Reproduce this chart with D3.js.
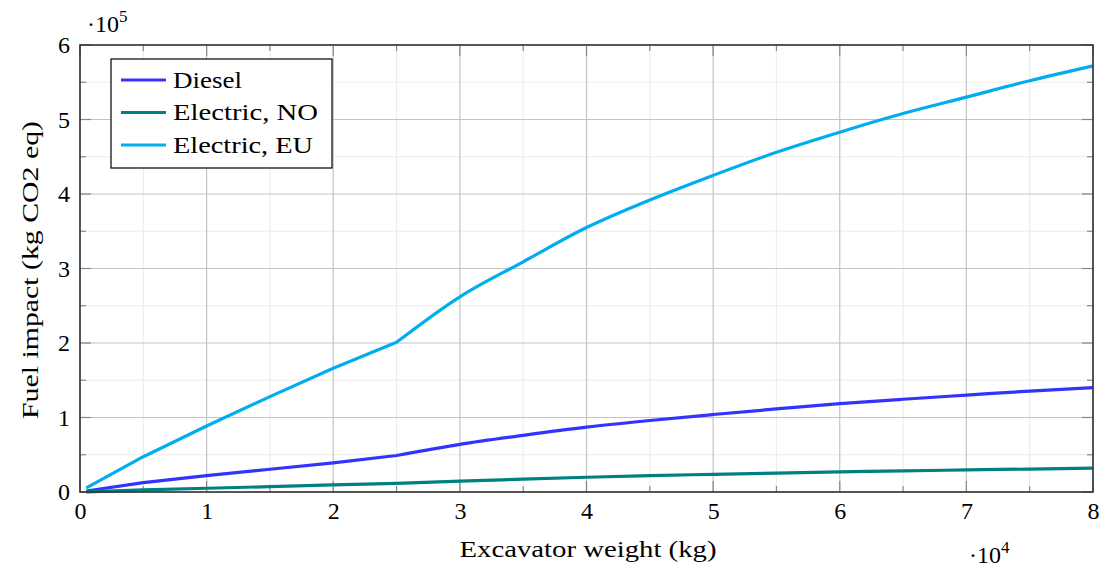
<!DOCTYPE html>
<html><head><meta charset="utf-8">
<script src="https://cdn.jsdelivr.net/npm/d3@7"></script>
<style>body{margin:0;background:#fff}</style>
</head><body><svg id="c" width="1108" height="572"></svg>
<script>
const weights = [500, 5000, 10000, 15000, 20000, 25000, 30000, 35000, 40000, 45000, 50000, 55000, 60000, 65000, 70000, 75000, 80000];
const electricEU = [5500, 47400, 88600, 128000, 166000, 201000, 262000, 309000, 355000, 392000, 425000, 456000, 483000, 508000, 530000, 552000, 572000];
const diesel = [1300, 12500, 22000, 30500, 39000, 49000, 64000, 76000, 87000, 96000, 104000, 111500, 118500, 124500, 130000, 135500, 140000];
const electricNO = [300, 2800, 5000, 7200, 9500, 11500, 14500, 17300, 19800, 22000, 23700, 25400, 27000, 28400, 29600, 30800, 32000];
const seriesNames = ["Diesel", "Electric, NO", "Electric, EU"];
const seriesColors = ["#3333ff", "#008080", "#00aeef"];
const xTicks = [0,10000,20000,30000,40000,50000,60000,70000,80000];
const yTicks = [0,100000,200000,300000,400000,500000,600000];
const kinkWeight = 25000;

const FONT = "'Liberation Serif', 'Times New Roman', serif";
const svg = d3.select("#c");
const L=80,R=1093,T=45,B=492;
const x = d3.scaleLinear().domain([0,80000]).range([L,R]);
const y = d3.scaleLinear().domain([0,600000]).range([B,T]);
const g = svg.append("g");
const xMinor = d3.range(5000,80000,10000);
const yMinor = d3.range(50000,600000,100000);
g.selectAll(".xm").data(xMinor).enter().append("line").attr("x1",d=>x(d)).attr("x2",d=>x(d)).attr("y1",T).attr("y2",B).attr("stroke","#ececec").attr("stroke-width",1.2);
g.selectAll(".ym").data(yMinor).enter().append("line").attr("y1",d=>y(d)).attr("y2",d=>y(d)).attr("x1",L).attr("x2",R).attr("stroke","#ececec").attr("stroke-width",1.2);
g.selectAll(".xg").data(xTicks).enter().append("line").attr("x1",d=>x(d)).attr("x2",d=>x(d)).attr("y1",T).attr("y2",B).attr("stroke","#c4c4c4").attr("stroke-width",1.2);
g.selectAll(".yg").data(yTicks).enter().append("line").attr("y1",d=>y(d)).attr("y2",d=>y(d)).attr("x1",L).attr("x2",R).attr("stroke","#c4c4c4").attr("stroke-width",1.2);
const tk = (data,len,col)=>{
  data.forEach(d=>{
    g.append("line").attr("x1",x(d)).attr("x2",x(d)).attr("y1",B).attr("y2",B-len).attr("stroke",col).attr("stroke-width",1.2);
    g.append("line").attr("x1",x(d)).attr("x2",x(d)).attr("y1",T).attr("y2",T+len).attr("stroke",col).attr("stroke-width",1.2);
  });
};
const tky = (data,len,col)=>{
  data.forEach(d=>{
    g.append("line").attr("y1",y(d)).attr("y2",y(d)).attr("x1",L).attr("x2",L+len).attr("stroke",col).attr("stroke-width",1.2);
    g.append("line").attr("y1",y(d)).attr("y2",y(d)).attr("x1",R).attr("x2",R-len).attr("stroke",col).attr("stroke-width",1.2);
  });
};
tk(xMinor,6,"#888"); tky(yMinor,6,"#888");
tk(xTicks,11,"#888"); tky(yTicks,11,"#888");

const allSeries = [diesel, electricNO, electricEU];
const lineA = d3.line().x(d=>x(d[0])).y(d=>y(d[1]));
const lineB = d3.line().x(d=>x(d[0])).y(d=>y(d[1])).curve(d3.curveMonotoneX);
[2,0,1].forEach(k=>{
  const pts = weights.map((w,i)=>[w, allSeries[k][i]]);
  const a = pts.filter(p=>p[0]<=kinkWeight), b = pts.filter(p=>p[0]>=kinkWeight);
  const d = lineA(a) + "L" + lineB(b).slice(1);
  g.append("path").attr("d",d).attr("fill","none").attr("stroke",seriesColors[k]).attr("stroke-width",3.2).attr("stroke-linejoin","round");
});
g.append("rect").attr("x",L).attr("y",T).attr("width",R-L).attr("height",B-T).attr("fill","none").attr("stroke","#333").attr("stroke-width",1.6);

const FS = 24;
const xa = d3.axisBottom(x).tickValues(xTicks).tickFormat(d=>d/10000).tickSize(0).tickPadding(0);
const xg = svg.append("g").attr("transform",`translate(0,${B+27})`).call(xa);
xg.attr("font-family",null).attr("font-size",null);
xg.select(".domain").remove();
xg.selectAll("text").attr("dy",0).attr("y",0).attr("fill","#000").style("font-family",FONT).style("font-size",FS+"px");
const ya = d3.axisLeft(y).tickValues(yTicks).tickFormat(d=>d/100000).tickSize(0).tickPadding(0);
const yg = svg.append("g").attr("transform",`translate(${L-10},0)`).call(ya);
yg.attr("font-family",null).attr("font-size",null);
yg.select(".domain").remove();
yg.selectAll("text").attr("dy","0.33em").attr("fill","#000").style("font-family",FONT).style("font-size",FS+"px");

const txt = (sel)=>sel.style("font-family",FONT).style("font-size",FS+"px").attr("fill","#000");
const m5 = txt(svg.append("text").attr("x",87).attr("y",32));
m5.append("tspan").text("·10");
m5.append("tspan").style("font-size","17px").attr("dy",-10).text("5");
const m4 = txt(svg.append("text").attr("x",969).attr("y",563));
m4.append("tspan").text("·10");
m4.append("tspan").style("font-size","17px").attr("dy",-10).text("4");

txt(svg.append("text").attr("x",588).attr("y",557).attr("text-anchor","middle").attr("textLength",257).attr("lengthAdjust","spacingAndGlyphs").text("Excavator weight (kg)"));
txt(svg.append("text").attr("transform",`translate(38,270) rotate(-90)`).attr("text-anchor","middle").attr("textLength",298).attr("lengthAdjust","spacingAndGlyphs").text("Fuel impact (kg CO2 eq)"));

const legendWidths = [69, 145, 140];
const lg = svg.append("g");
lg.append("rect").attr("x",111).attr("y",59).attr("width",221).attr("height",109).attr("fill","#fff").attr("stroke","#000").attr("stroke-width",1.2);
seriesNames.forEach((n,i)=>{
  const yy = 80 + i*32.5;
  lg.append("line").attr("x1",121).attr("x2",166).attr("y1",yy).attr("y2",yy).attr("stroke",seriesColors[i]).attr("stroke-width",3.2);
  txt(lg.append("text").attr("x",173).attr("y",yy).attr("dy","0.33em").attr("textLength",legendWidths[i]).attr("lengthAdjust","spacingAndGlyphs").text(n));
});
</script></body></html>
